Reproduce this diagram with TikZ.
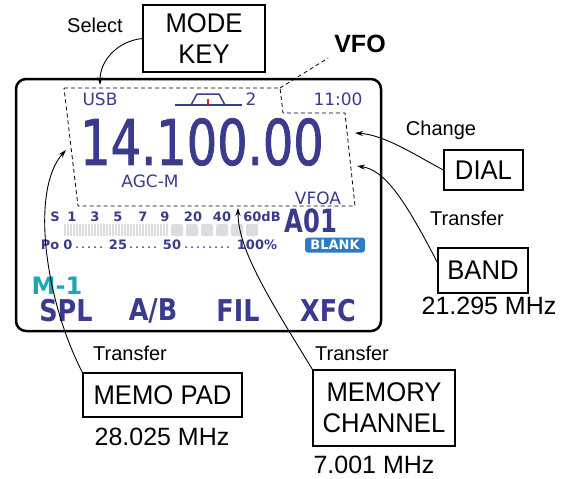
\documentclass[tikz,border=0pt]{standalone}
\usepackage{fontspec}
\setmainfont{Liberation Sans}
\newfontfamily\lcdfont{DejaVu Sans}
\newfontfamily\lcdbig[FakeStretch=0.76]{DejaVu Sans}
\newfontfamily\lcdheavy[FakeStretch=0.76, FakeBold=1.2]{DejaVu Sans}
\newfontfamily\lcdmid[FakeStretch=0.85]{DejaVu Sans}
\newfontfamily\keyfont[FakeStretch=0.95]{Liberation Sans}
\usepackage{tikz}
\usetikzlibrary{arrows.meta}
\definecolor{lcdBlue}{HTML}{3B3B8E}
\definecolor{lcdTeal}{HTML}{1FA5B5}
\definecolor{badgeBlue}{HTML}{2C7BC4}
\definecolor{barGray}{HTML}{DCDCE0}
\definecolor{tuneRed}{HTML}{E02020}

\begin{document}
\begin{tikzpicture}[
  x=1pt, y=-1pt,
  keybox/.style={
    draw, line width=1.2pt, inner sep=0pt,
    align=center, font=\keyfont\fontsize{27}{31}\selectfont
  },
  note/.style={font=\fontsize{20}{24}\selectfont},
  freqtext/.style={font=\fontsize{25}{30}\selectfont},
  lcdsmall/.style={text=lcdBlue, inner sep=1pt, font=\lcdfont\fontsize{17}{20}\selectfont},
  meter/.style={text=lcdBlue, inner sep=0pt, font=\lcdfont\bfseries\fontsize{13}{14}\selectfont},
  softkey/.style={text=lcdBlue, font=\lcdmid\bfseries\fontsize{30}{34}\selectfont},
  link/.style={line width=0.9pt, -{Stealth[length=8pt, width=5pt]}},
  outline/.style={line width=0.8pt, dash pattern=on 4pt off 3pt},
]
\useasboundingbox (0,0) rectangle (571,479);

% Display frame
\draw[line width=2.5pt, rounded corners=10pt] (16,79) rectangle (381,331);

% Top row of the display
\node[lcdsmall] (usb) at (100,99) {USB};
\draw[lcdBlue, line width=1.5pt] (175,105) -- (242,105);
\draw[lcdBlue, line width=1.5pt] (191,105) -- (197,94) -- (219,94) -- (225,105);
\draw[tuneRed, line width=1.5pt] (208,99) -- (208,105);
\node[lcdsmall] (fil) at (251,99) {2};
\node[lcdsmall] (clock) at (338,99) {11:00};

% Frequency readout
\node[text=lcdBlue, inner sep=0pt, font=\lcdheavy\fontsize{63}{63}\selectfont] (mainfreq) at (202,142) {14.100.00};
\node[lcdsmall] (agc) at (150,181) {AGC-M};
\node[lcdsmall] (vfoa) at (318,198) {VFOA};
\node[text=lcdBlue, inner sep=0pt, font=\lcdbig\bfseries\fontsize{32}{32}\selectfont] (chnum) at (311,221) {A01};
\node[fill=badgeBlue, rounded corners=3pt, text=white, inner sep=0pt,
  minimum width=60pt, minimum height=15pt,
  font=\lcdfont\bfseries\fontsize{13}{13}\selectfont] (blank) at (335,245) {BLANK};

% S-meter scale
\foreach \x/\t in {55/S, 72/1, 95/3, 118/5, 143/7, 165/9, 193/20, 222/40, 262/60dB}
  \node[meter] (s\t) at (\x,217) {\t};
\foreach \x in {64,67,...,168}
  \fill[barGray] (\x,224) rectangle ++(2,12);
\foreach \x in {171,186,...,246}
  \fill[barGray, rounded corners=1.5pt] (\x,224) rectangle ++(12,12);

% Po scale
\foreach \x/\t in {50/Po, 68/0, 118/25, 172/50, 257/100\%}
  \node[meter] (po\x) at (\x,245) {\t};
\foreach \x in {77,83,...,101, 131,137,...,155, 186,192,...,228}
  \fill[lcdBlue] (\x,247) circle (1pt);

% Memo and soft keys
\node[text=lcdTeal, font=\lcdfont\bfseries\fontsize{24}{24}\selectfont] (memo1) at (57,286) {M-1};
\node[softkey] (spl) at (66,311) {SPL};
\node[softkey] (ab) at (153,311) {A/B};
\node[softkey] (filkey) at (238,311) {FIL};
\node[softkey] (xfc) at (328,311) {XFC};

% VFO area
\draw[outline] (64,88) -- (280,88) -- (283,113) -- (345,113) -- (355,206) -- (78,206) -- cycle;
\coordinate (vfocorner) at (280,88);
\node[font=\bfseries\fontsize{25}{30}\selectfont] (vfo) at (360,44) {VFO};
\draw[outline, shorten >=3pt] (vfocorner) -- (vfo.south west);

% Keys and sources
\node[keybox, minimum width=122pt, minimum height=67pt] (mode) at (204,38.5) {MODE\\KEY};
\node[note] (select) at (95,25) {Select};
\node[keybox, minimum width=79pt, minimum height=40pt] (dial) at (483.5,170) {DIAL};
\node[note] (change) at (441,130) {Change};
\node[keybox, minimum width=90pt, minimum height=45pt] (band) at (483,270.5) {BAND};
\node[note] (bandnote) at (467,218) {Transfer};
\node[freqtext] (bandfreq) at (489,306) {21.295 MHz};
\node[keybox, minimum width=159pt, minimum height=44pt] (memopad) at (162.5,395) {MEMO PAD};
\node[note] (memonote) at (130,353) {Transfer};
\node[freqtext] (memofreq) at (162,437) {28.025 MHz};
\node[keybox, minimum width=142pt, minimum height=76pt] (chan) at (384,408) {MEMORY\\CHANNEL};
\node[note] (channote) at (352,353) {Transfer};
\node[freqtext] (chanfreq) at (374,465) {7.001 MHz};

% Arrow targets
\coordinate (usbtip) at (100,85);
\coordinate (dialtip) at (355,133);
\coordinate (bandtip) at (357,166);
\coordinate (memotip) at (66,150);
\coordinate (chantip) at (238,208);

% Connectors
\draw[link] (mode.west) .. controls (118,41) and (100,60) .. (usbtip);
\draw[link] (dial.west) .. controls (415,155) and (385,135) .. (dialtip);
\draw[link] ([yshift=8pt]band.west) .. controls (405,200) and (385,170) .. (bandtip);
\draw[link] (memopad.north west) .. controls (45,300) and (30,190) .. (memotip);
\draw[link] (chan.north west) .. controls (270,300) and (238,250) .. (chantip);

\end{tikzpicture}
\end{document}
